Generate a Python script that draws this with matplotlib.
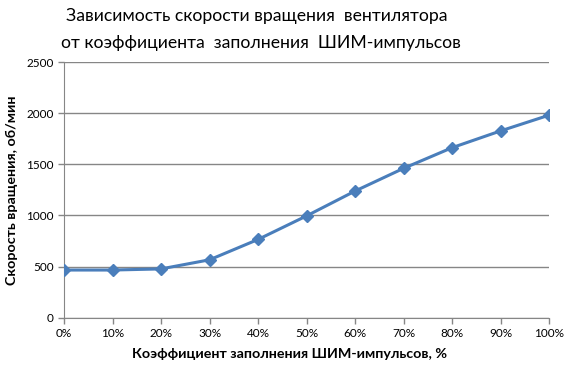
import matplotlib
matplotlib.use("Agg")
import matplotlib.pyplot as plt

# Data
duty = [0, 10, 20, 30, 40, 50, 60, 70, 80, 90, 100]
speed = [466, 466, 477, 566, 765, 995, 1238, 1460, 1662, 1826, 1980]
x_labels = [f"{d}%" for d in duty]
y_ticks = [0, 500, 1000, 1500, 2000, 2500]

plt.rcParams['font.family'] = ['Lato', 'DejaVu Sans']

fig = plt.figure(figsize=(5.64, 3.68), dpi=100)
ax = fig.add_axes([64 / 564, 1 - 317.7 / 368, (549 - 64) / 564, (317.7 - 62) / 368])

ax.plot(duty, speed, color='#4A7EBB', linewidth=2.2, marker='D', markersize=6.5,
        markerfacecolor='#4A7EBB', markeredgecolor='#4A7EBB', zorder=3)

ax.set_xlim(0, 100)
ax.set_ylim(0, 2500)
ax.set_xticks(duty)
ax.set_xticklabels(x_labels)
ax.set_yticks(y_ticks)
ax.tick_params(axis='both', labelsize=8.5, colors='#868686', labelcolor='black',
               length=4, width=1, direction='out')
ax.grid(axis='y', color='#868686', linewidth=1)
ax.set_axisbelow(True)
for side in ['top', 'right']:
    ax.spines[side].set_visible(False)
for side in ['left', 'bottom']:
    ax.spines[side].set_color('#868686')

fig.text(257 / 564, 1 - 16 / 368, 'Зависимость скорости вращения  вентилятора',
         ha='center', va='center', fontsize=12.7)
fig.text(261 / 564, 1 - 43 / 368, 'от коэффициента  заполнения  ШИМ-импульсов',
         ha='center', va='center', fontsize=12.7)
fig.text(290 / 564, 1 - 354 / 368, 'Коэффициент заполнения ШИМ-импульсов, %',
         ha='center', va='center', fontsize=10.3, fontweight='bold')
fig.text(12 / 564, 1 - 190 / 368, 'Скорость вращения, об/мин',
         ha='center', va='center', fontsize=10.3, fontweight='bold', rotation=90)

fig.savefig('out.png', dpi=100)
